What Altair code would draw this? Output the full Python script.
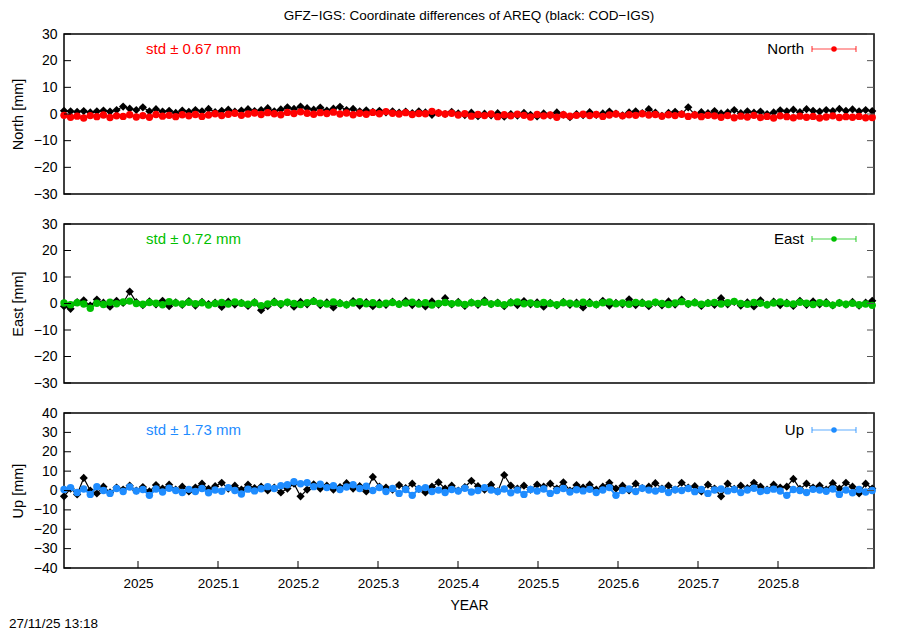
import altair as alt
import pandas as pd

FONT = "Liberation Sans"

# epochs: every 3rd day, starting at 2024.9075 (decimal year)
T0 = 2024.9075
N = 124
t = [T0 + i * 3 / 365.25 for i in range(N)]
XMIN, XMAX = 2024.9075, 2025.92

north_cod = [1.2, 1.0, 0.8, 1.1, 0.6, 1.0, 1.3, 0.9, 1.5, 2.8,
             2.0, 1.5, 2.5, 1.0, 1.8, 0.9, 1.2, 0.4, 1.3, 0.8,
             1.5, 1.0, 1.9, 0.7, 1.2, 1.6, 0.9, 1.3, 1.8, 1.1,
             1.5, 2.2, 1.0, 1.7, 2.5, 1.9, 2.8, 2.2, 1.6, 2.4,
             1.3, 2.0, 2.7, 1.5, 1.9, 1.0, 1.4, 0.8, 1.2, 0.6,
             1.0, 0.5, 0.9, 0.3, 1.0, 0.6, -0.3, 0.4, 0.0, 0.8,
             0.2, -0.4, 0.5, -0.8, 0.1, -0.5, 0.3, -1.0, 0.0, -0.6,
             0.4, -0.3, -0.9, 0.2, -0.5, 0.6, -0.2, -1.2, 0.0, -0.4,
             0.7, -0.3, 0.2, 0.9, 0.1, -0.5, 0.6, 1.0, 0.3, 1.8,
             0.5, -0.7, 0.4, 0.8, 0.0, 2.5, -0.2, 0.7, 0.3, 1.1,
             0.2, 0.6, 1.5, 0.3, 1.0, 0.5, 0.9, 0.0, 0.6, 1.4,
             1.0, 1.6, 0.7, 1.8, 1.2, 0.9, 1.5, 1.1, 1.9, 1.2,
             1.7, 1.0, 1.5, 1.1]
north_gfz = [-0.5, -1.2, -0.8, -1.5, -0.6, -1.0, -0.4, -1.3, -0.7, -0.9,
             -0.3, -1.1, -0.6, -1.2, -0.2, -0.8, -0.5, -1.0, -0.3, -0.7,
             -0.2, -0.9, -0.4, 0.1, -0.6, -0.1, 0.3, -0.5, 0.0, 0.4,
             -0.2, 0.5, 0.1, -0.3, 0.6, 0.2, 0.8, 0.3, -0.1, 0.5,
             0.2, 0.7, 0.0, 0.4, -0.3, 0.3, -0.1, 0.6, 0.1, 0.9,
             0.3, 0.0, 0.5, -0.2, 0.2, 0.1, 1.0, 0.4, 0.0, 0.3,
             -0.4, 0.1, -0.8, -0.2, -0.6, 0.0, -1.0, -0.3, -0.7, -0.1,
             -0.5, -1.1, -0.2, -0.7, -0.4, -1.2, -0.3, -0.8, -0.5, -0.1,
             -0.6, -0.2, -0.9, -0.4, 0.0, -0.7, -0.3, -0.5, 0.1, -0.4,
             -0.2, -0.8, -0.3, -0.6, -0.1, -0.9, -0.4, -1.0, -0.5, -0.7,
             -1.2, -0.6, -1.4, -0.8, -1.1, -0.5, -1.3, -0.9, -1.5, -0.7,
             -1.0, -1.4, -0.8, -1.2, -0.9, -1.5, -1.1, -0.7, -1.3, -1.0,
             -1.2, -0.9, -1.4, -1.3]
east_cod = [-1.0, -2.0, 0.5, 1.2, -0.8, 1.5, 0.3, -1.2, 1.0, 0.2,
            4.5, 0.5, -0.6, 0.8, -0.3, 1.0, -1.0, 0.4, -0.5, 0.9,
            -0.8, 0.6, -0.2, 0.3, -1.3, 0.7, -0.4, 0.2, -0.9, 0.5,
            -2.5, -1.0, 0.8, -0.5, 0.3, -1.2, 0.6, -0.3, 1.0, -0.6,
            0.4, -1.5, 0.2, -0.4, 0.9, -0.8, 0.5, -1.0, 0.3, -0.5,
            0.7, -0.2, 1.0, -0.6, 0.3, -1.1, 0.8, -0.4, 2.0, -0.3,
            0.6, -0.9, 0.4, -0.5, 1.2, -0.2, 0.3, -1.0, 0.5, -0.6,
            0.9, -0.3, 0.4, -1.2, 0.2, -0.7, 0.6, -0.5, 0.3, -1.5,
            0.5, -0.4, 1.0, -0.8, 0.2, -0.3, 1.6, -0.6, 0.4, -1.0,
            0.3, -0.7, 0.8, -0.4, 1.5, -0.2, 0.5, -0.9, 0.2, -0.5,
            2.0, -0.3, 0.6, -0.8, 0.4, -1.1, 1.2, -0.4, 0.7, -0.6,
            0.3, -0.9, 1.0, -0.5, 0.8, -0.3, 0.5, -0.7, 0.2, -0.4,
            0.6, -0.8, 0.3, 1.0]
east_gfz = [0.2, -0.5, 0.3, -0.2, -1.8, 0.1, -0.4, 0.5, -0.1, 0.6,
            0.9, 0.0, -0.3, 0.4, 0.1, -0.5, 0.7, 0.2, -0.2, 0.5,
            -0.1, 0.3, -0.6, 0.0, 0.4, -0.2, 0.6, 0.1, -0.3, 0.3,
            -0.8, -0.2, 0.4, -0.1, 0.5, 0.0, -0.4, 0.3, 0.8, 0.1,
            -0.2, 0.6, 0.0, -0.5, 0.2, 0.7, -0.1, 0.3, -0.4, 0.1,
            0.4, -0.3, 0.2, 0.5, -0.2, 0.3, -0.6, 0.0, 0.4, -0.1,
            0.2, -0.4, 0.3, 0.0, 0.5, -0.2, 0.1, -0.5, 0.3, 0.6,
            -0.1, 0.2, -0.3, 0.4, 0.0, -0.5, 0.3, 0.1, -0.2, 0.5,
            0.0, -0.4, 0.3, 0.6, -0.1, 0.2, -0.3, 0.4, 0.1, -0.2,
            0.5, 0.0, -0.4, 0.2, 0.7, -0.1, 0.3, -0.3, 0.1, 0.4,
            -0.2, 0.3, 0.8, 0.0, -0.3, 0.4, 0.1, -0.5, 0.2, 0.6,
            0.0, -0.2, 0.5, 0.1, -0.4, 0.3, 0.0, -0.6, 0.2, -0.3,
            0.1, -0.5, -0.2, -0.7]
up_cod = [-3.0, 1.0, -2.0, 6.5, 0.0, -1.5, 2.0, -1.0, 1.5, 0.5,
          2.5, 0.0, 1.8, -0.5, 2.8, 1.0, 3.0, 0.5, 2.0, -0.5,
          1.5, 3.5, 0.8, 2.2, 4.0, 1.0, 2.5, 0.5, 3.0, 1.2,
          2.0, 0.0, 1.5, -1.0, 1.0, 3.5, -3.0, 0.5, 3.2, 1.0,
          2.5, 0.5, 1.8, 3.8, 1.0, 2.2, -0.5, 7.0, 2.0, 1.5,
          0.5, 2.8, 1.2, 3.5, 0.8, -1.0, 2.0, 4.2, 1.0, 2.5,
          0.0, 1.8, 5.0, 2.2, 0.5, 3.0, -0.5, 8.0, 2.5, 1.0,
          2.5, 0.5, 3.0, 2.0, 3.5, 1.0, 4.2, 0.0, 2.8, 1.5,
          3.0, 0.5, 2.0, 4.0, 1.0, 2.5, 0.0, 3.5, 1.2, 2.0,
          3.8, 1.0, 2.5, 0.5, 4.0, 1.5, 2.2, -0.5, 3.0, 1.0,
          -3.0, 3.5, 0.8, 2.5, 1.2, 4.0, 2.0, 0.5, 3.0, 1.5,
          2.0, 6.0, 0.8, 3.5, 1.5, 2.5, 0.5, 3.8, 1.0, 4.0,
          2.0, -1.5, 3.5, 1.0]
up_gfz = [0.5, 1.5, -1.0, 0.8, -2.0, 2.0, 0.0, -1.5, 1.0, -0.5,
          1.8, -0.3, 0.5, -2.5, 0.8, -0.8, 1.2, 0.0, -1.0, 0.6,
          -0.5, 1.0, -1.2, 0.3, -0.4, 1.5, 0.0, -1.8, 0.7, -0.2,
          0.9, 2.0, 1.0, 2.5, 3.0, 4.5, 3.5, 4.0, 2.0, 3.2,
          1.5, 2.5, 0.5, 1.8, 3.0, 1.0, 2.2, 0.0, 1.5, -0.5,
          1.0, -1.5, 0.5, -2.5, 0.8, 1.5, -0.5, 0.2, -1.0, 0.5,
          -0.3, 1.2, -0.8, 0.0, 1.5, 0.3, -0.5, 0.8, -1.2, 0.2,
          -2.0, 0.5, -0.3, 0.8, -1.5, 0.0, 1.0, -0.8, 0.4, -0.2,
          0.6, -1.0, 0.3, 1.5, -2.5, 0.0, 0.8, -0.5, 1.2, 0.2,
          -0.3, 0.7, -1.0, 0.4, 0.0, 1.0, -0.6, 0.5, -1.5, 0.3,
          0.8, -0.2, 0.5, -1.0, 0.3, 1.2, -0.5, 0.0, 0.7, -0.3,
          -2.5, 0.5, 0.0, -1.0, 0.6, 0.2, -0.4, 0.8, -2.0, 0.3,
          -1.2, 0.5, -0.8, 0.0]

x_ticks = [2025.0, 2025.1, 2025.2, 2025.3, 2025.4, 2025.5, 2025.6, 2025.7, 2025.8]

W = 810


def panel(name, cod, gfz, color, ymin, ymax, h, std, text_y, bottom=False, top=False):
    df = pd.DataFrame({
        "t": t * 2,
        "v": cod + gfz,
        "s": ["cod"] * N + ["gfz"] * N,
    })
    yticks = list(range(ymin, ymax + 1, 10))
    xscale = alt.Scale(domain=[XMIN, XMAX], nice=False, zero=False)
    yscale = alt.Scale(domain=[ymin, ymax], nice=False, zero=False)
    if bottom:
        xaxis = alt.Axis(values=x_ticks, format="~g", ticks=False, domain=False, grid=False,
                         labelPadding=8, labelOverlap=False, labelFlush=False,
                         title="YEAR", titlePadding=9,
                         labelFont=FONT, titleFont=FONT, labelFontSize=13.5, titleFontSize=14,
                         titleFontWeight="normal", labelColor="black", titleColor="black")
    else:
        xaxis = None
    yaxis = alt.Axis(values=yticks, ticks=False, domain=False, grid=False, labelPadding=7,
                     labelOverlap=False, labelFlush=False,
                     title=f"{name} [mm]", titlePadding=8, labelFont=FONT, titleFont=FONT,
                     labelFontSize=14, titleFontSize=14.5, titleFontWeight="normal",
                     labelColor="black", titleColor="black")
    x = alt.X("t:Q", scale=xscale, axis=xaxis)
    y = alt.Y("v:Q", scale=yscale, axis=yaxis)
    base = alt.Chart(df).encode(x=x, y=y)
    cod_f = base.transform_filter(alt.datum.s == "cod")
    gfz_f = base.transform_filter(alt.datum.s == "gfz")
    layers = [
        cod_f.mark_line(color="black", strokeWidth=1.2),
        cod_f.mark_point(shape="diamond", filled=True, size=68, color="black", opacity=1),
        gfz_f.mark_line(color=color, strokeWidth=2),
        gfz_f.mark_circle(color=color, size=55, opacity=1),
    ]
    tdf = pd.DataFrame({"v": yticks})
    layers.append(alt.Chart(tdf).mark_rule(color="black", strokeWidth=1).encode(
        y=alt.Y("v:Q", scale=yscale, axis=yaxis), x=alt.value(0), x2=alt.value(7)))
    layers.append(alt.Chart(tdf).mark_rule(color="#555555", strokeWidth=1).encode(
        y=alt.Y("v:Q", scale=yscale, axis=yaxis), x=alt.value(W - 7), x2=alt.value(W)))
    if bottom:
        xdf = pd.DataFrame({"t": x_ticks})
        layers.append(alt.Chart(xdf).mark_rule(color="black", strokeWidth=1).encode(
            x=alt.X("t:Q", scale=xscale, axis=xaxis), y=alt.value(h - 7), y2=alt.value(h)))
        layers.append(alt.Chart(pd.DataFrame({"s": ["27/11/25 13:18"]})).mark_text(
            align="left", baseline="middle", font=FONT, fontSize=13.5, color="black").encode(
            x=alt.value(-55), y=alt.value(h + 56), text="s:N"))
    if top:
        layers.append(alt.Chart(pd.DataFrame({"s": ["GFZ\u2212IGS: Coordinate differences of AREQ (black: COD\u2212IGS)"]})).mark_text(
            align="center", baseline="middle", font=FONT, fontSize=13.5, color="black").encode(
            x=alt.value(W / 2), y=alt.value(-18), text="s:N"))
    # std annotation
    layers.append(alt.Chart(pd.DataFrame({"s": [std]})).mark_text(
        align="left", baseline="middle", font=FONT, fontSize=15, color=color).encode(
        x=alt.value(82), y=alt.value(text_y), text="s:N"))
    # key
    layers.append(alt.Chart(pd.DataFrame({"s": [name]})).mark_text(
        align="right", baseline="middle", font=FONT, fontSize=15, color="black").encode(
        x=alt.value(740), y=alt.value(text_y), text="s:N"))
    layers.append(alt.Chart(pd.DataFrame({"s": [name]})).mark_rule(color=color, strokeWidth=1.2, opacity=0.7).encode(
        x=alt.value(748), x2=alt.value(792), y=alt.value(text_y)))
    layers.append(alt.Chart(pd.DataFrame({"s": [name]})).mark_rule(color=color, strokeWidth=1.2, opacity=0.7).encode(
        x=alt.value(748), y=alt.value(text_y - 3), y2=alt.value(text_y + 3)))
    layers.append(alt.Chart(pd.DataFrame({"s": [name]})).mark_rule(color=color, strokeWidth=1.2, opacity=0.7).encode(
        x=alt.value(792), y=alt.value(text_y - 3), y2=alt.value(text_y + 3)))
    layers.append(alt.Chart(pd.DataFrame({"s": [name]})).mark_circle(color=color, size=30, opacity=1).encode(
        x=alt.value(770), y=alt.value(text_y)))
    return alt.layer(*layers).properties(width=W, height=h)


p1 = panel("North", north_cod, north_gfz, "#ff0000", -30, 30, 160, "std \u00b1 0.67 mm", 15, top=True)
p2 = panel("East", east_cod, east_gfz, "#00c000", -30, 30, 159, "std \u00b1 0.72 mm", 15)
p3 = panel("Up", up_cod, up_gfz, "#1e8cff", -40, 40, 155, "std \u00b1 1.73 mm", 17, bottom=True)

chart = (
    alt.vconcat(p1, p2, p3, spacing=30, bounds="flush")
    .properties(padding=0, background="white")
    .configure_view(stroke="black", strokeWidth=1.5)
    .configure_axis(labelOverlap=False)
)

chart.save("out.html", embed_options={"renderer": "svg", "actions": False})
